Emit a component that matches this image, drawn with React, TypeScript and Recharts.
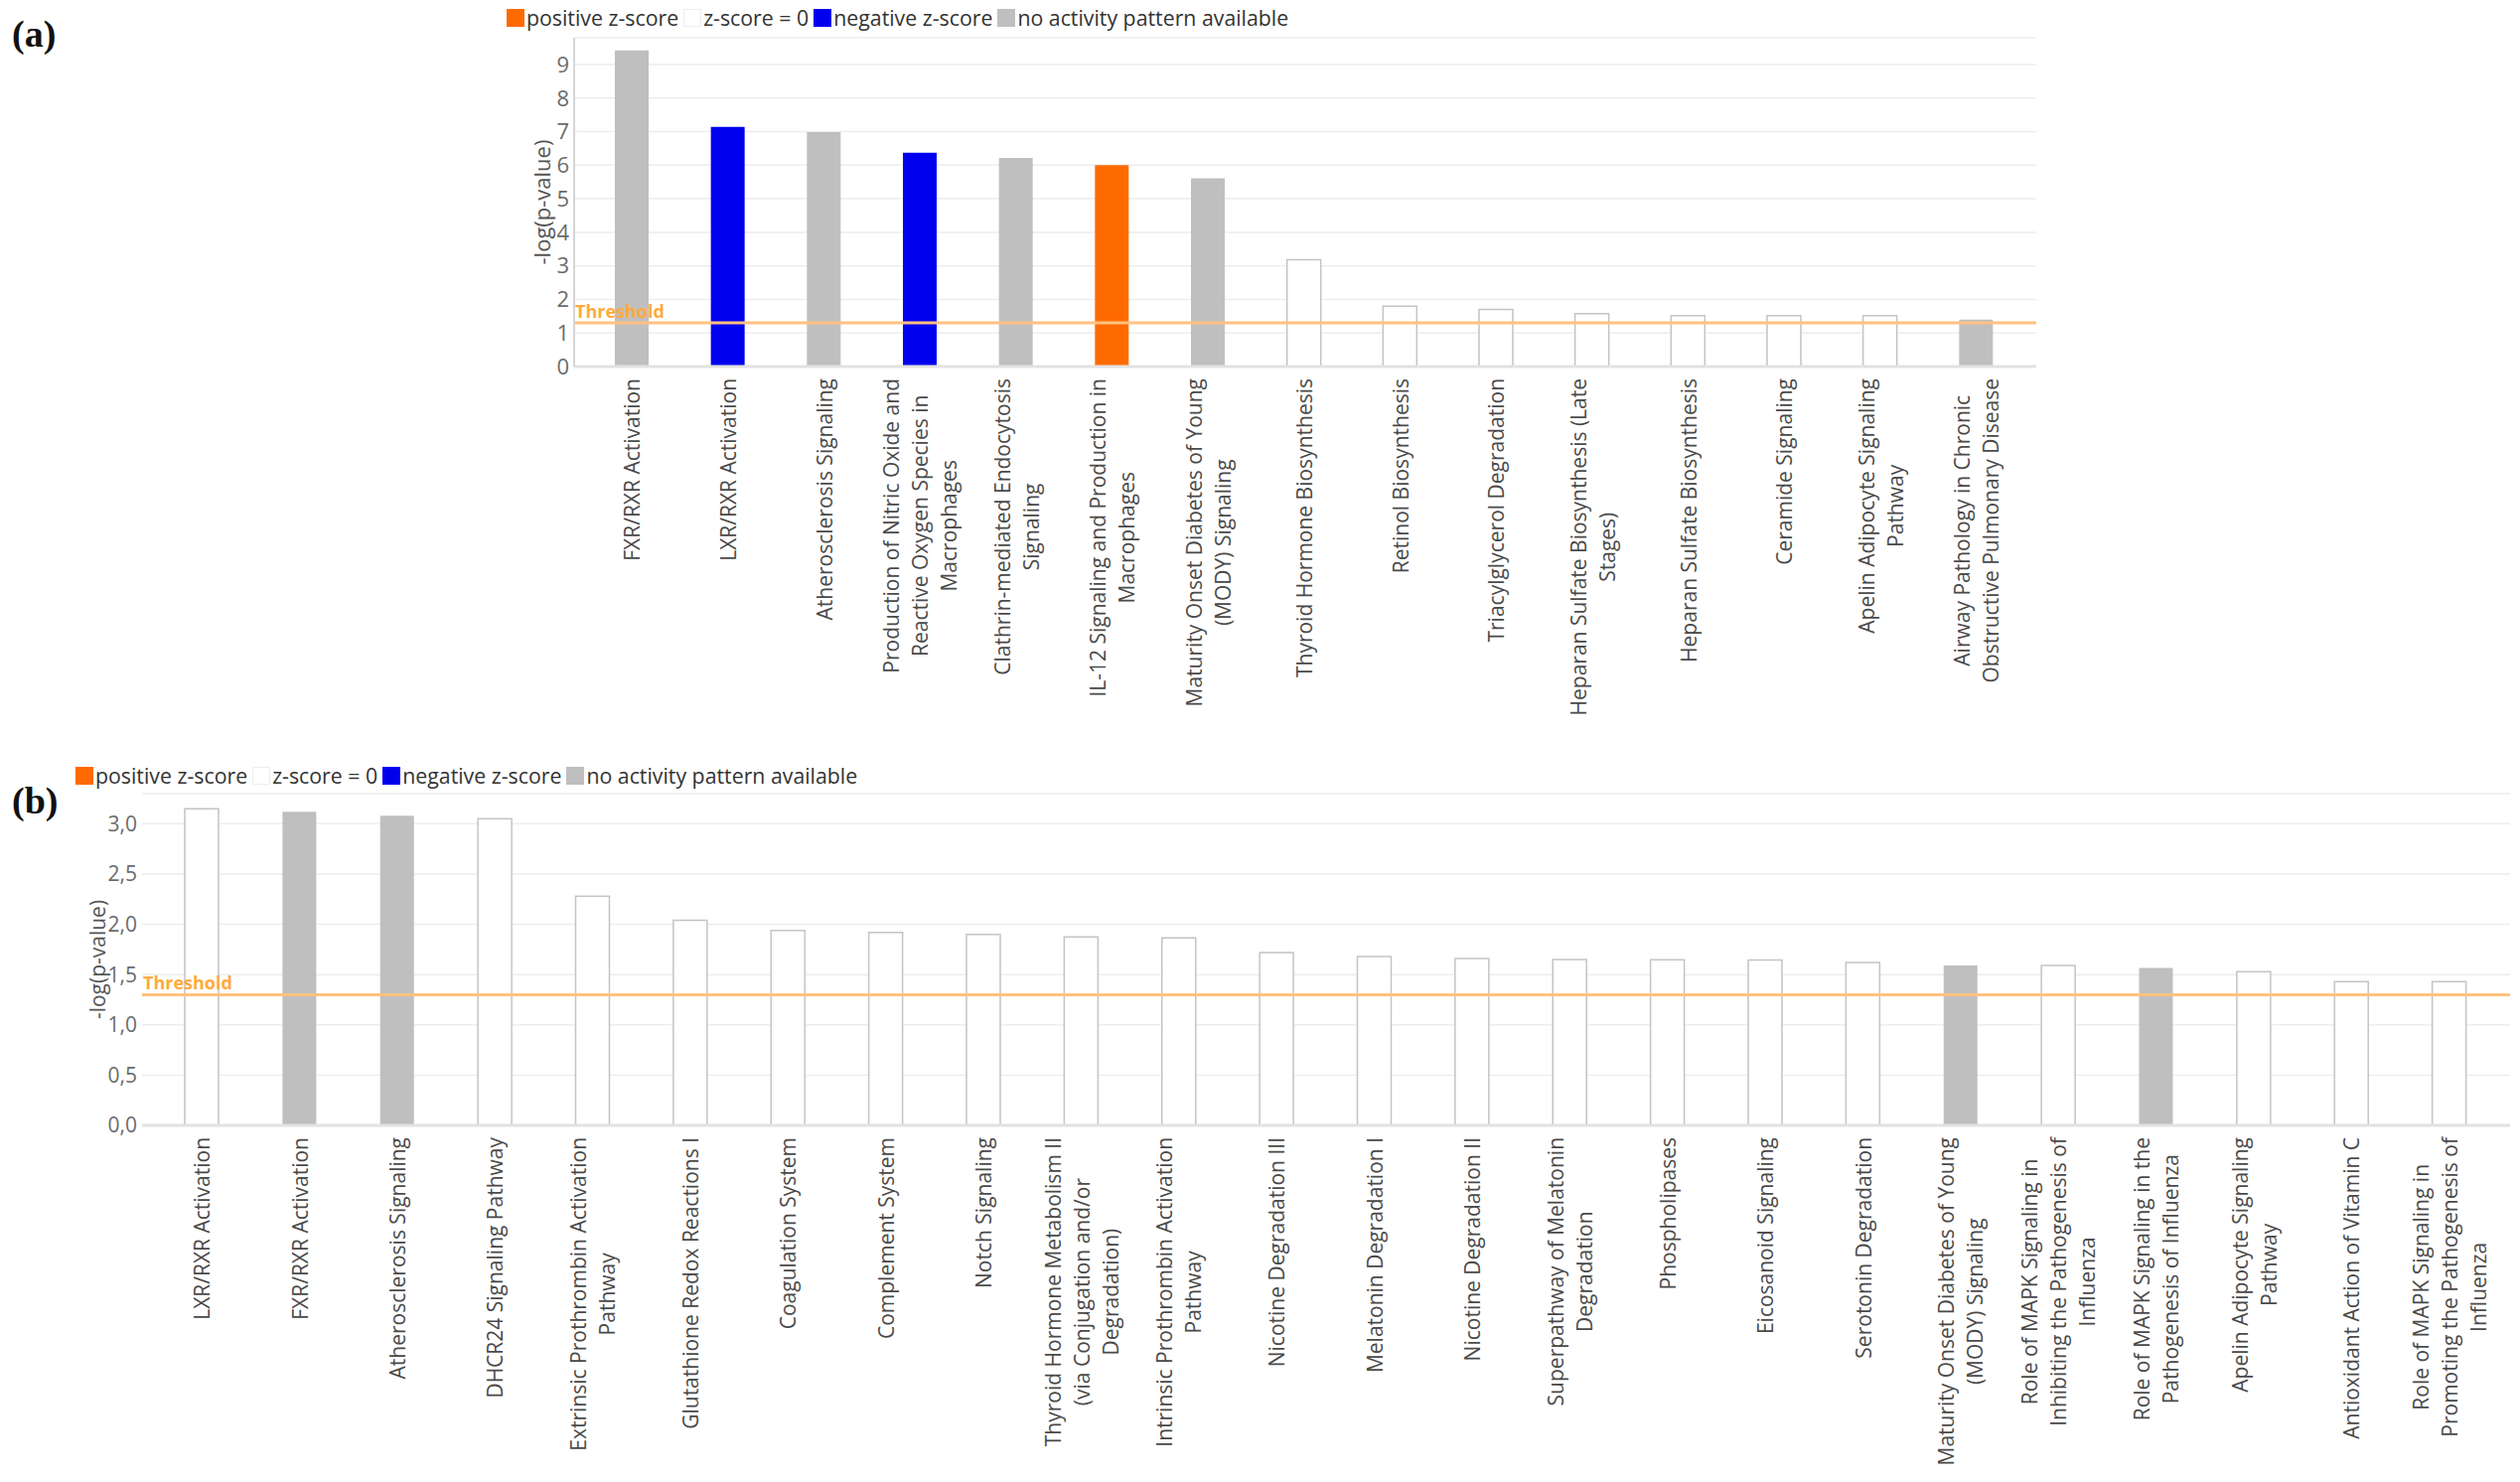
import React from "react";
import {
  BarChart,
  Bar,
  XAxis,
  YAxis,
  CartesianGrid,
  ReferenceLine,
  Cell,
  Label,
} from "recharts";

// z-score status: "pos" | "zero" | "neg" | "na"
const COLORS: Record<string, string> = {
  pos: "#FF6A00",
  zero: "#FFFFFF",
  neg: "#0000EE",
  na: "#BFBFBF",
};

const LEGEND = [
  { key: "pos", label: "positive z-score" },
  { key: "zero", label: "z-score = 0" },
  { key: "neg", label: "negative z-score" },
  { key: "na", label: "no activity pattern available" },
];

const THRESHOLD = 1.3;

// panel (a)
const namesA = [
  "FXR/RXR Activation",
  "LXR/RXR Activation",
  "Atherosclerosis Signaling",
  "Production of Nitric Oxide and\nReactive Oxygen Species in\nMacrophages",
  "Clathrin-mediated Endocytosis\nSignaling",
  "IL-12 Signaling and Production in\nMacrophages",
  "Maturity Onset Diabetes of Young\n(MODY) Signaling",
  "Thyroid Hormone Biosynthesis",
  "Retinol Biosynthesis",
  "Triacylglycerol Degradation",
  "Heparan Sulfate Biosynthesis (Late\nStages)",
  "Heparan Sulfate Biosynthesis",
  "Ceramide Signaling",
  "Apelin Adipocyte Signaling\nPathway",
  "Airway Pathology in Chronic\nObstructive Pulmonary Disease",
];
const valuesA = [9.42, 7.14, 6.99, 6.37, 6.22, 6.0, 5.61, 3.18, 1.8, 1.7, 1.58, 1.52, 1.52, 1.52, 1.4];
const zA = ["na", "neg", "na", "neg", "na", "pos", "na", "zero", "zero", "zero", "zero", "zero", "zero", "zero", "na"];
const ticksA = [0, 1, 2, 3, 4, 5, 6, 7, 8, 9];

// panel (b)
const namesB = [
  "LXR/RXR Activation",
  "FXR/RXR Activation",
  "Atherosclerosis Signaling",
  "DHCR24 Signaling Pathway",
  "Extrinsic Prothrombin Activation\nPathway",
  "Glutathione Redox Reactions I",
  "Coagulation System",
  "Complement System",
  "Notch Signaling",
  "Thyroid Hormone Metabolism II\n(via Conjugation and/or\nDegradation)",
  "Intrinsic Prothrombin Activation\nPathway",
  "Nicotine Degradation III",
  "Melatonin Degradation I",
  "Nicotine Degradation II",
  "Superpathway of Melatonin\nDegradation",
  "Phospholipases",
  "Eicosanoid Signaling",
  "Serotonin Degradation",
  "Maturity Onset Diabetes of Young\n(MODY) Signaling",
  "Role of MAPK Signaling in\nInhibiting the Pathogenesis of\nInfluenza",
  "Role of MAPK Signaling in the\nPathogenesis of Influenza",
  "Apelin Adipocyte Signaling\nPathway",
  "Antioxidant Action of Vitamin C",
  "Role of MAPK Signaling in\nPromoting the Pathogenesis of\nInfluenza",
];
const valuesB = [
  3.15, 3.12, 3.08, 3.05, 2.28, 2.04, 1.94, 1.92, 1.9, 1.875, 1.865, 1.72,
  1.68, 1.66, 1.65, 1.647, 1.644, 1.62, 1.59, 1.59, 1.565, 1.53, 1.43, 1.43,
];
const zB = [
  "zero", "na", "na", "zero", "zero", "zero", "zero", "zero", "zero", "zero", "zero", "zero",
  "zero", "zero", "zero", "zero", "zero", "zero", "na", "zero", "na", "zero", "zero", "zero",
];
const ticksB = [0, 0.5, 1, 1.5, 2, 2.5, 3];

const FONT = "'Open Sans', sans-serif";
const LABEL_SIZE = 21;
const LINE_H = 29;

let measureCtx: CanvasRenderingContext2D | null = null;
function textWidth(s: string) {
  if (!measureCtx) measureCtx = document.createElement("canvas").getContext("2d");
  if (!measureCtx) return s.length * LABEL_SIZE * 0.5;
  measureCtx.font = `${LABEL_SIZE}px "Open Sans"`;
  return measureCtx.measureText(s).width;
}

// rotated, wrapped category label: block ends near the axis, lines centred in it
function PathwayTick(props: any) {
  const { x, y, payload } = props;
  const lines = String(payload.value).split("\n");
  const w = Math.max(...lines.map(textWidth));
  const mid = (lines.length - 1) / 2;
  return (
    <g transform={`translate(${x},${y + 10}) rotate(-90)`}>
      {lines.map((l, i) => (
        <text
          key={i}
          x={-w / 2}
          y={(i - mid) * LINE_H}
          textAnchor="middle"
          dominantBaseline="central"
          fontSize={LABEL_SIZE}
          fontFamily={FONT}
          fill="#4a4a4a"
        >
          {l}
        </text>
      ))}
    </g>
  );
}

const axisTitle = (gap: number, size: number) => (props: any) => {
  const { x, y, width, height } = props.viewBox;
  const cx = x + width - gap;
  const cy = y + height / 2;
  return (
    <text
      x={cx}
      y={cy}
      transform={`rotate(-90, ${cx}, ${cy})`}
      textAnchor="middle"
      dominantBaseline="central"
      fontSize={size}
      fontFamily={FONT}
      fill="#555"
    >
      -log(p-value)
    </text>
  );
};

const thresholdLabel = (props: any) => {
  const { x, y } = props.viewBox;
  return (
    <text x={x + 1} y={y - 5} fontSize={18} fontWeight="bold" fontFamily={FONT} fill="#FFAA40">
      Threshold
    </text>
  );
};

function ZLegend({ left, top }: { left: number; top: number }) {
  return (
    <div
      style={{
        position: "absolute",
        left,
        top,
        display: "flex",
        alignItems: "center",
        fontFamily: FONT,
        fontSize: 21.3,
        color: "#333",
        whiteSpace: "nowrap",
      }}
    >
      {LEGEND.map((item) => (
        <React.Fragment key={item.key}>
          <span
            style={{
              display: "inline-block",
              width: 18,
              height: 18,
              background: COLORS[item.key],
              border: item.key === "zero" ? "1px solid #EEEEEE" : "none",
              boxSizing: "border-box",
              marginRight: 2,
            }}
          />
          <span style={{ marginRight: 5 }}>{item.label}</span>
        </React.Fragment>
      ))}
    </div>
  );
}

interface PanelProps {
  names: string[];
  values: number[];
  z: string[];
  ticks: number[];
  domain: [number, number];
  top: number;
  height: number;
  margin: { top: number; right: number; bottom: number; left: number };
  xHeight: number;
  padding: { left: number; right: number };
  tickSize: number;
  titleGap: number;
  fmt: (v: number) => string;
  showYLine: boolean;
  topBorder: string;
}

function PathwayPanel(p: PanelProps) {
  const data = p.names.map((name, i) => ({ name, value: p.values[i], z: p.z[i] }));
  return (
    <div style={{ position: "absolute", left: 0, top: p.top }}>
      <BarChart width={2537} height={p.height} data={data} margin={p.margin}>
        <CartesianGrid vertical={false} stroke="#EDEDED" strokeWidth={1.5} />
        <XAxis
          dataKey="name"
          interval={0}
          height={p.xHeight}
          padding={p.padding}
          tickLine={false}
          tickSize={0}
          axisLine={{ stroke: "#E2E2E2", strokeWidth: 3 }}
          tick={<PathwayTick />}
        />
        <XAxis
          xAxisId="top"
          orientation="top"
          dataKey="name"
          height={0}
          tick={false}
          tickLine={false}
          axisLine={{ stroke: p.topBorder, strokeWidth: 2 }}
        />
        <YAxis
          domain={p.domain}
          ticks={p.ticks}
          interval={0}
          width={60}
          tickLine={false}
          tickSize={0}
          tickMargin={5}
          tickFormatter={p.fmt}
          axisLine={p.showYLine ? { stroke: "#D6D6D6", strokeWidth: 2 } : false}
          tick={{ fontSize: p.tickSize, fill: "#6b6b6b", fontFamily: FONT }}
          label={<Label content={axisTitle(p.titleGap, p.tickSize)} />}
        />
        <YAxis
          yAxisId="right"
          orientation="right"
          domain={p.domain}
          width={0}
          tick={false}
          tickLine={false}
          axisLine={{ stroke: "#EBEBEB", strokeWidth: 1.5 }}
        />
        <Bar dataKey="value" barSize={34} isAnimationActive={false}>
          {data.map((d, i) => (
            <Cell
              key={i}
              fill={COLORS[d.z]}
              stroke={d.z === "zero" ? "#C4C4C4" : "none"}
              strokeWidth={1.5}
            />
          ))}
        </Bar>
        <ReferenceLine
          y={THRESHOLD}
          stroke="#FFC27F"
          strokeWidth={3}
          label={<Label content={thresholdLabel} />}
        />
      </BarChart>
    </div>
  );
}

const panelTag: React.CSSProperties = {
  position: "absolute",
  left: 12,
  fontFamily: "'Liberation Serif', serif",
  fontWeight: "bold",
  fontSize: 38,
  lineHeight: "38px",
  color: "#111",
};

export default function App() {
  return (
    <div
      style={{
        position: "absolute",
        left: 0,
        top: 0,
        width: 2537,
        height: 1492,
        background: "#fff",
        overflow: "hidden",
      }}
    >
      <div style={{ ...panelTag, top: 15 }}>(a)</div>
      <div style={{ ...panelTag, top: 787 }}>(b)</div>

      <PathwayPanel
        names={namesA}
        values={valuesA}
        z={zA}
        ticks={ticksA}
        domain={[0, 9.8]}
        top={0}
        height={720}
        margin={{ top: 38, right: 487, bottom: 11, left: 518 }}
        xHeight={340}
        padding={{ left: 10, right: 12 }}
        tickSize={22}
        titleGap={33}
        fmt={(v) => String(v)}
        showYLine={true}
        topBorder="#EEEEEE"
      />
      <ZLegend left={510} top={3} />

      <PathwayPanel
        names={namesB}
        values={valuesB}
        z={zB}
        ticks={ticksB}
        domain={[0, 3.3]}
        top={740}
        height={752}
        margin={{ top: 59, right: 10, bottom: 9, left: 83 }}
        xHeight={350}
        padding={{ left: 11, right: 12 }}
        tickSize={21}
        titleGap={45}
        fmt={(v) => v.toFixed(1).replace(".", ",")}
        showYLine={false}
        topBorder="#DADADA"
      />
      <ZLegend left={76} top={766} />
    </div>
  );
}
